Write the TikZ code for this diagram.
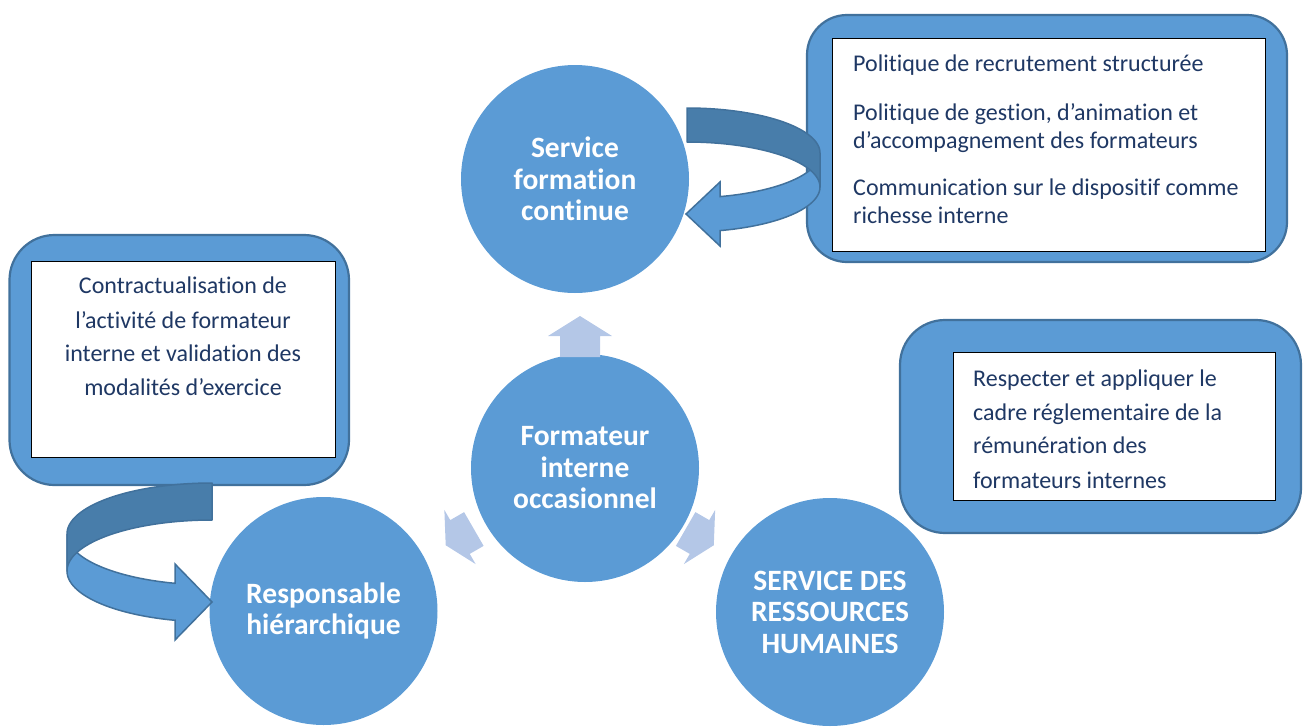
\documentclass[tikz,border=0pt]{standalone}
\usepackage{fontspec}
\setmainfont{Carlito}[Ligatures=NoCommon]
\definecolor{cblue}{HTML}{5B9BD5}
\definecolor{cedge}{HTML}{41719C}
\definecolor{cdark}{HTML}{487DAA}
\definecolor{clight}{HTML}{B4C7E7}
\definecolor{navy}{HTML}{1F3864}
\begin{document}
\begin{tikzpicture}[x=1pt,y=-1pt,
  disc/.style={circle, fill=cblue, inner sep=0pt, minimum size=228pt, text=white,
    align=center, font=\bfseries\fontsize{29.5}{31.5}\selectfont},
  frame/.style={rounded corners=40pt, fill=cblue, draw=cedge, line width=2.2pt, inner sep=0pt},
  panel/.style={fill=white, draw=black, line width=0.8pt, inner sep=0pt},
  txt/.style={text=navy, inner sep=0pt, font=\fontsize{24}{28}\selectfont},
  bandlow/.style={fill=cblue, draw=cedge, line width=1.5pt, line join=miter},
  bandhigh/.style={fill=cdark, draw=cedge, line width=1.5pt, line join=round},
  fat/.style={fill=clight, draw=none}]

\useasboundingbox (0,0) rectangle (1307,726);
\clip (0,0) rectangle (1307,726);

% ---- framed text panels ----
\node[frame, minimum width=480pt, minimum height=247pt] (frameA) at (1047,138.5) {};
\node[panel, minimum width=432.5pt, minimum height=213.4pt] (panelA) at (1048.75,145) {};
\node[frame, rounded corners=45pt, minimum width=339.5pt, minimum height=250pt] (frameB) at (179.25,360) {};
\node[panel, minimum width=304pt, minimum height=196.7pt] (panelB) at (183,359.35) {};
\node[frame, rounded corners=45pt, minimum width=401pt, minimum height=213pt] (frameC) at (1100.5,426.5) {};
\node[panel, minimum width=322.4pt, minimum height=148pt] (panelC) at (1114.5,426.7) {};

% panel texts
\node[txt, anchor=base west] (a1) at (853,71.7) {Politique de recrutement structurée};
\node[txt, anchor=base west] (a2) at (853,120) {Politique de gestion, d’animation et};
\node[txt, anchor=base west] (a3) at (853,148.3) {d’accompagnement des formateurs};
\node[txt, anchor=base west] (a4) at (853,195) {Communication sur le dispositif comme};
\node[txt, anchor=base west] (a5) at (853,223.3) {richesse interne};

\node[txt, anchor=base] (b1) at (183,293.3) {Contractualisation de};
\node[txt, anchor=base] (b2) at (183,328.3) {l’activité de formateur};
\node[txt, anchor=base] (b3) at (183,361.7) {interne et validation des};
\node[txt, anchor=base] (b4) at (183,395) {modalités d’exercice};

\node[txt, anchor=base west] (c1) at (973,386.7) {Respecter et appliquer le};
\node[txt, anchor=base west] (c2) at (973,420) {cadre réglementaire de la};
\node[txt, anchor=base west] (c3) at (973,453.3) {rémunération des};
\node[txt, anchor=base west] (c4) at (973,488.3) {formateurs internes};

% ---- actors ----
\node[disc] (sfc) at (575,179) {Service\\formation\\continue};
\node[disc] (fio) at (585,468) {Formateur\\interne\\occasionnel};
\node[disc] (rh) at (323.5,611) {Responsable\\hiérarchique};
\node[disc] (srh) at (830,612) {SERVICE DES\\RESSOURCES\\HUMAINES};

% ---- curved ribbon arrow from the upper panel to the training service ----
\draw[bandlow] (720,196.6) -- (720,182) -- (686,214) -- (720,246) -- (720,230.6)
  -- plot[domain=75.6:0, samples=40, variable=\t] ({687+133*cos(\t)},{187+45*sin(\t)})
  -- (820,153)
  -- plot[domain=0:75.6, samples=40, variable=\t] ({687+133*cos(\t)},{153+45*sin(\t)})
  -- cycle;
\draw[bandhigh] plot[domain=-90:0, samples=40, variable=\t] ({687+133*cos(\t)},{153+45*sin(\t)})
  -- (820,187)
  -- plot[domain=0:-90, samples=40, variable=\t] ({687+133*cos(\t)},{187+45*sin(\t)})
  -- cycle;

% ---- curved ribbon arrow from the left panel to the line manager ----
\draw[bandlow] (175,583.3) -- (175,564) -- (212,602) -- (175,640) -- (175,620.3)
  -- plot[domain=104.8:180, samples=40, variable=\t] ({212+145*cos(\t)},{571+51*sin(\t)})
  -- (67,534)
  -- plot[domain=180:104.8, samples=40, variable=\t] ({212+145*cos(\t)},{534+51*sin(\t)})
  -- cycle;
\draw[bandhigh] plot[domain=-90:-180, samples=40, variable=\t] ({212+145*cos(\t)},{534+51*sin(\t)})
  -- (67,571)
  -- plot[domain=-180:-90, samples=40, variable=\t] ({212+145*cos(\t)},{571+51*sin(\t)})
  -- cycle;

% ---- block arrows leaving the trainer ----
\begin{scope}[shift={(580,336)}, rotate=90]
  \fill[fat] (-21,-20) -- (0,-20) -- (0,-32) -- (20,0) -- (0,32) -- (0,20) -- (-21,20) -- cycle;
\end{scope}
\begin{scope}[shift={(460,537)}, rotate=210]
  \fill[fat] (-16,-19.5) -- (0,-19.5) -- (0,-31.3) -- (16.5,0) -- (0,31.3) -- (0,19.5) -- (-16,19.5) -- cycle;
\end{scope}
\begin{scope}[shift={(699.5,537)}, rotate=-30]
  \fill[fat] (-16,-19.5) -- (0,-19.5) -- (0,-31.3) -- (16.5,0) -- (0,31.3) -- (0,19.5) -- (-16,19.5) -- cycle;
\end{scope}
\end{tikzpicture}
\end{document}
